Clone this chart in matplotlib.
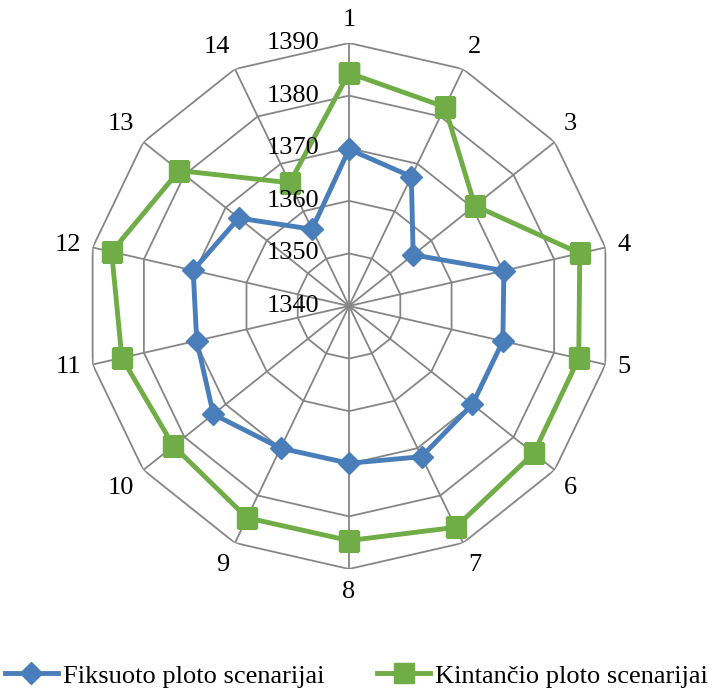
import numpy as np
import matplotlib.pyplot as plt
from matplotlib.transforms import offset_copy

plt.rcParams['font.family'] = ['Liberation Serif', 'DejaVu Serif']

categories = [str(i) for i in range(1, 15)]
fiksuoto = [1369.8, 1367.3, 1355.6, 1370.2, 1370.0, 1370.0, 1371.8,
            1369.9, 1370.0, 1373.0, 1369.7, 1370.4, 1366.8, 1356.2]
kintancio = [1384.3, 1382.0, 1370.6, 1385.0, 1384.8, 1384.9, 1386.7,
             1384.6, 1384.7, 1382.7, 1384.3, 1386.3, 1381.3, 1366.0]
ring_values = [1340, 1350, 1360, 1370, 1380, 1390]

n = len(categories)
theta = np.linspace(0, 2 * np.pi, n, endpoint=False)
theta_closed = np.append(theta, theta[0])

fig = plt.figure(figsize=(7.15, 6.96), dpi=100)
ax = fig.add_axes([0.1203, 0.1825, 0.7357, 0.7557], projection='polar')
ax.set_theta_zero_location('N')
ax.set_theta_direction(-1)
ax.set_ylim(1340, 1390)
ax.grid(False)
ax.spines['polar'].set_visible(False)
ax.set_xticks([])
ax.set_yticks([])
ax.patch.set_alpha(0)

grid_color = '#868686'
# polygon rings
for r in ring_values[1:]:
    ax.plot(theta_closed, [r] * (n + 1), color=grid_color, lw=1.3, zorder=1)
# spokes
for t in theta:
    ax.plot([t, t], [1340, 1390], color=grid_color, lw=1.3, zorder=1)

ax.plot(theta_closed, fiksuoto + fiksuoto[:1], color='#4A7EBB', lw=3.5,
        marker='D', markersize=11, label='Fiksuoto ploto scenarijai', zorder=3)
ax.plot(theta_closed, kintancio + kintancio[:1], color='#70AD47', lw=3.5,
        marker='s', markersize=14, label='Kintančio ploto scenarijai', zorder=3)

# category labels just outside each outer vertex, edge-aligned
for t, lab in zip(theta, categories):
    s, c = np.sin(t), np.cos(t)
    ha = 'left' if s > 0.2 else ('right' if s < -0.2 else 'center')
    va = 'bottom' if c > 0.5 else ('top' if c < -0.5 else 'center')
    ax.annotate(lab, xy=(t, 1390), xytext=(12 * s, 12 * c),
                textcoords='offset pixels', ha=ha, va=va, fontsize=19,
                annotation_clip=False)

# radial value labels left of the top spoke
trans = offset_copy(ax.transData, fig=fig, x=-30, y=0, units='dots')
for r in ring_values:
    ax.text(0, r, str(r), transform=trans, ha='right', va='center',
            fontsize=19, clip_on=False)

fig.legend(loc='lower left', ncol=2, frameon=False, fontsize=19,
           bbox_to_anchor=(0.007, 0.012), borderaxespad=0, borderpad=0,
           handlelength=2.0, handletextpad=0.2, columnspacing=2.0)

fig.savefig('out.png', dpi=100)
